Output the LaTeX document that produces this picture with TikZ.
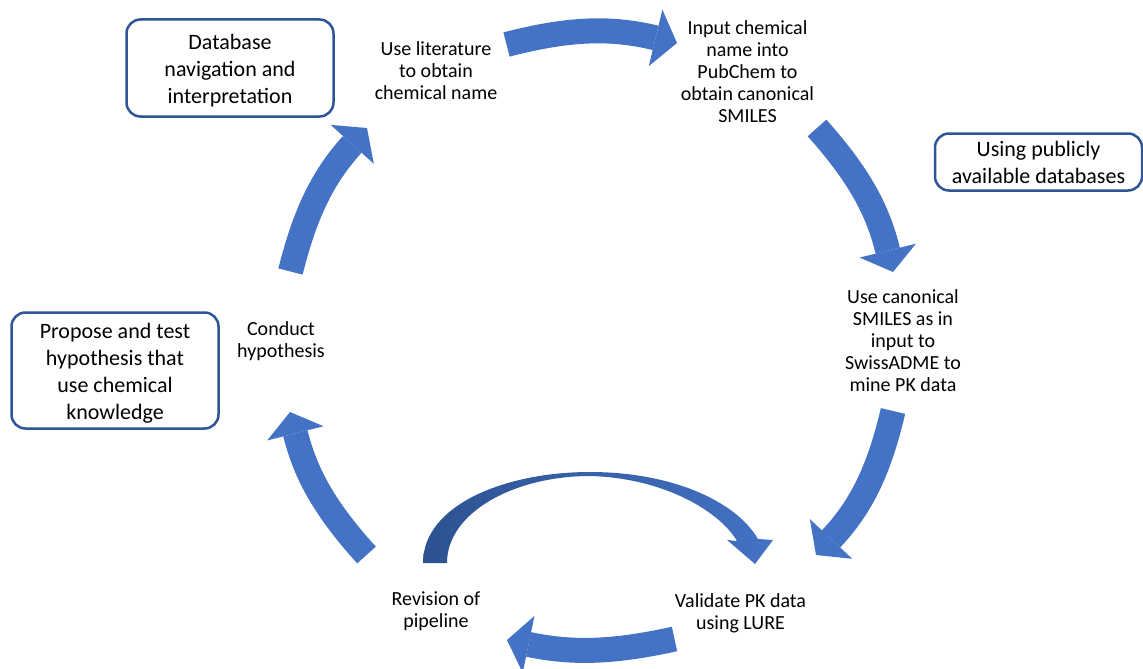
\documentclass[tikz,border=0pt]{standalone}
\usepackage{fontspec}
\setmainfont{Carlito}
\usetikzlibrary{arrows.meta}
\definecolor{arrowblue}{HTML}{4472C4}
\definecolor{boxblue}{HTML}{2F5597}
\definecolor{darkarrow}{HTML}{2C5290}
\begin{document}
\begin{tikzpicture}[x=1pt,y=-1pt,
  lbl/.style={align=center, font=\fontsize{20}{22}\selectfont, inner sep=0pt},
  infobox/.style={draw=boxblue, line width=2.5pt, rounded corners=14pt, align=center,
    font=\fontsize{22}{27}\selectfont, inner sep=0pt, minimum width=207pt},
  bigarrow/.style={draw=arrowblue, line width=25pt,
    -{Triangle[width=58pt,length=22pt,line width=0pt]}}]
\useasboundingbox (0,0) rectangle (1143,669);

% boxes
\node[infobox, minimum height=97pt] (b1) at (230,68) {\rule{0pt}{20pt}Database\\navigation and\\interpretation};
\node[infobox, minimum height=57pt] (b2) at (1038.5,162) {Using publicly\\available databases};
\node[infobox, minimum height=116pt] (b3) at (115,370.5) {\rule{0pt}{20pt}Propose and test\\hypothesis that\\use chemical\\knowledge};

% step labels
\node[lbl] (lit) at (436,70.5) {Use literature\\to obtain\\chemical name};
\node[lbl] (pub) at (747.5,72) {Input chemical\\name into\\PubChem to\\obtain canonical\\SMILES};
\node[lbl] (swiss) at (903,341) {Use canonical\\SMILES as in\\input to\\SwissADME to\\mine PK data};
\node[lbl] (valid) at (740.5,613) {Validate PK data\\using LURE};
\node[lbl] (rev) at (436,611.5) {Revision of\\pipeline};
\node[lbl] (cond) at (281,341.5) {Conduct\\hypothesis};

% arrow end points
\coordinate (a1s) at (506.5,44.5); \coordinate (a1e) at (677,43);
\coordinate (a2s) at (817,128);    \coordinate (a2e) at (893,272);
\coordinate (a3s) at (893,411);    \coordinate (a3e) at (816,555);
\coordinate (a4s) at (674.5,639);  \coordinate (a4e) at (507,640);
\coordinate (a5s) at (366.5,555);  \coordinate (a5e) at (290,412);
\coordinate (a6s) at (290.5,271.5);\coordinate (a6e) at (367,128);

\draw[bigarrow] (a1s) to[bend left=14] (a1e);
\draw[bigarrow] (a2s) to[bend left=14] (a2e);
\draw[bigarrow] (a3s) to[bend left=15] (a3e);
\draw[bigarrow] (a4s) to[bend left=12] (a4e);
\draw[bigarrow] (a5s) to[bend left=14] (a5e);
\draw[bigarrow] (a6s) to[bend left=14] (a6e);

% inner revision loop arrow
\shade[left color=darkarrow, right color=arrowblue]
  (423,563) .. controls (423,505) and (505,472) .. (590,472)
  .. controls (670,472) and (735,500) .. (758,539)
  -- (773,540) -- (755,564) -- (727,540) -- (737,541)
  .. controls (720,512) and (665,478) .. (590,476)
  .. controls (515,476) and (447,512) .. (447,563) -- cycle;
\end{tikzpicture}
\end{document}
